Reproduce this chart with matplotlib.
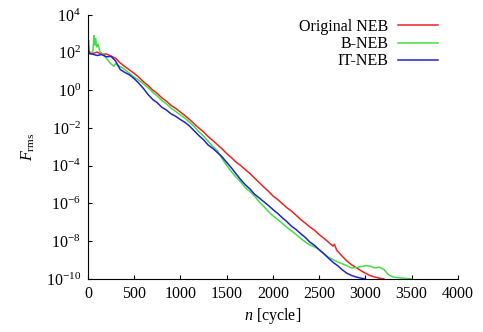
import numpy as np
import matplotlib
matplotlib.use('Agg')
import matplotlib.pyplot as plt

plt.rcParams['font.family'] = ['Liberation Serif', 'DejaVu Serif']
plt.rcParams['mathtext.fontset'] = 'custom'
plt.rcParams['mathtext.rm'] = 'Liberation Serif'
plt.rcParams['mathtext.it'] = 'Liberation Serif:italic'
plt.rcParams['font.size'] = 11.5

# log10(F_rms)
red_n = [0, 50, 100, 150, 200, 250, 300, 350, 400, 450, 500, 550, 600, 650, 700, 750,
         800, 850, 900, 950, 1000, 1050, 1100, 1150, 1200, 1250, 1300, 1350, 1400, 1450,
         1500, 1550, 1600, 1650, 1700, 1750, 1800, 1850, 1900, 1950, 2000, 2050, 2100,
         2150, 2200, 2250, 2300, 2350, 2400, 2450, 2500, 2550, 2600, 2650, 2665, 2690,
         2750, 2800, 2850, 2900, 2950, 3000, 3050, 3100, 3150, 3200]
red_log = [2.08, 1.95, 2.03, 1.90, 1.93, 1.82, 1.70, 1.45, 1.26, 1.08, 0.90, 0.70, 0.46,
           0.26, 0.02, -0.16, -0.40, -0.58, -0.80, -0.96, -1.15, -1.34, -1.55, -1.78,
           -2.00, -2.20, -2.45, -2.66, -2.88, -3.10, -3.35, -3.56, -3.80, -3.98, -4.20,
           -4.40, -4.65, -4.88, -5.12, -5.34, -5.60, -5.78, -6.00, -6.22, -6.40, -6.62,
           -6.85, -7.04, -7.25, -7.42, -7.65, -7.84, -8.05, -8.26, -8.16, -8.48, -8.80,
           -9.05, -9.25, -9.40, -9.56, -9.70, -9.82, -9.90, -9.96, -10.0]

green_n = [0, 30, 55, 65, 75, 85, 95, 110, 130, 160, 200, 240, 280, 300, 330, 350, 400,
           450, 500, 550, 600, 650, 700, 750, 800, 850, 900, 950, 1000, 1050, 1100, 1150,
           1200, 1250, 1300, 1350, 1400, 1450, 1500, 1550, 1600, 1650, 1700, 1750, 1800,
           1850, 1900, 1950, 2000, 2050, 2100, 2150, 2200, 2250, 2300, 2350, 2400, 2450,
           2500, 2550, 2600, 2650, 2700, 2750, 2800, 2850, 2900, 2950, 3000, 3050, 3100,
           3150, 3200, 3250, 3300, 3400, 3500]
green_log = [2.0, 1.95, 2.1, 2.9, 2.4, 2.75, 2.3, 2.45, 2.05, 1.92, 1.70, 1.45, 1.28,
             1.42, 1.30, 1.26, 1.10, 0.90, 0.70, 0.54, 0.35, 0.14, -0.10, -0.30, -0.55,
             -0.72, -0.95, -1.12, -1.30, -1.48, -1.70, -1.92, -2.20, -2.42, -2.70, -2.98,
             -3.20, -3.62, -3.98, -4.30, -4.60, -4.84, -5.15, -5.36, -5.60, -5.90, -6.15,
             -6.42, -6.65, -6.84, -7.05, -7.26, -7.45, -7.64, -7.85, -8.04, -8.20, -8.30,
             -8.45, -8.66, -8.85, -8.98, -9.10, -9.20, -9.30, -9.42, -9.40, -9.35, -9.30,
             -9.32, -9.42, -9.38, -9.50, -9.78, -9.90, -9.96, -10.0]

blue_n = [0, 5, 12, 50, 100, 150, 200, 250, 300, 350, 400, 450, 500, 550, 600, 650, 700,
          750, 800, 850, 900, 950, 1000, 1050, 1100, 1150, 1200, 1250, 1300, 1350, 1400,
          1450, 1500, 1550, 1600, 1650, 1700, 1750, 1800, 1850, 1900, 1950, 2000, 2050,
          2100, 2150, 2200, 2250, 2300, 2350, 2400, 2450, 2500, 2550, 2600, 2650, 2700,
          2750, 2800, 2850, 2900, 2950, 3000]
blue_log = [2.0, 2.65, 1.95, 1.92, 1.85, 1.90, 1.78, 1.80, 1.55, 1.10, 0.95, 0.82, 0.62,
            0.38, 0.10, -0.22, -0.48, -0.66, -0.90, -1.05, -1.25, -1.38, -1.55, -1.70,
            -1.90, -2.15, -2.40, -2.62, -2.90, -3.08, -3.30, -3.52, -3.82, -4.10, -4.42,
            -4.72, -5.00, -5.22, -5.50, -5.70, -5.90, -6.10, -6.32, -6.52, -6.75, -6.96,
            -7.20, -7.38, -7.60, -7.80, -8.05, -8.22, -8.45, -8.66, -8.90, -9.12, -9.30,
            -9.52, -9.70, -9.82, -9.90, -9.96, -10.0]

labels = ['Original NEB', 'B-NEB', 'IT-NEB']
colors = ['#ee2222', '#44dd44', '#2222cc']

fig = plt.figure(figsize=(4.83, 3.32), dpi=100)
ax = fig.add_axes([0.182, 0.160, 0.766, 0.795])

series = [(red_n, red_log), (green_n, green_log), (blue_n, blue_log)]
for (n, lg), lab, c in zip(series, labels, colors):
    ax.semilogy(n, 10.0 ** np.array(lg), color=c, lw=1.1, label=lab)

ax.set_xlim(0, 4000)
ax.set_ylim(1e-10, 1e4)
ax.set_xticks(np.arange(0, 4001, 500))
yt = np.arange(-10, 5, 2)
ax.set_yticks(10.0 ** yt)
ax.set_yticklabels([r'$10^{%d}$' % e for e in yt])
ax.minorticks_off()
ax.tick_params(direction='in', length=3, width=0.8, labelsize=11.5, pad=5)
for s in ['top', 'right']:
    ax.spines[s].set_visible(False)

ax.set_xlabel(r'$n$ [cycle]', fontsize=11.5, labelpad=3)
ax.set_ylabel(r'$F_{\rm rms}$', fontsize=11.5, labelpad=6)

ax.legend(loc='upper right', bbox_to_anchor=(0.946, 0.985), frameon=False,
          markerfirst=False, handlelength=2.5, labelspacing=0.08, borderpad=0,
          borderaxespad=0, handletextpad=0.6, fontsize=11.5)

fig.savefig('out.png', dpi=100)
